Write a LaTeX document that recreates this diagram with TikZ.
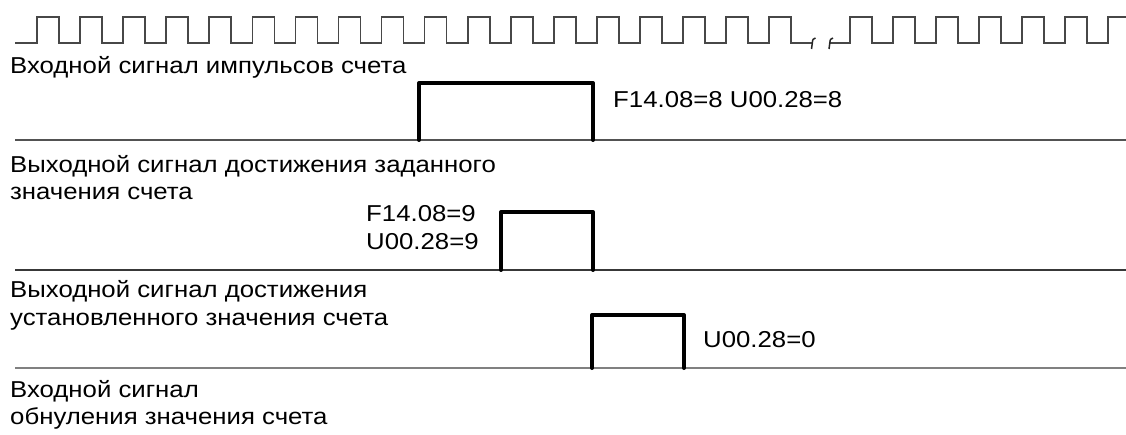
\documentclass[tikz,border=0pt]{standalone}
\usepackage{fontspec}
\setmainfont{Liberation Sans}[FakeStretch=1.12]
\begin{document}
\begin{tikzpicture}[x=1pt,y=-1pt,
  lbl/.style={anchor=base west,inner sep=0pt,font=\fontsize{23}{27}\selectfont,text=black},
  train/.style={draw=black!72,line width=1.7pt,line join=miter},
  axisline/.style={line width=2pt},
  pulse/.style={draw=black,line width=4pt,line join=round,line cap=round}]
\useasboundingbox (0,0) rectangle (1126,435);
% pulse train
\draw[train] (15,43)
  \foreach \k in {0,...,17} { -- ({37+43.07*\k},43) -- ({37+43.07*\k},17) -- ({59+43.07*\k},17) -- ({59+43.07*\k},43) }
  -- (812.5,43);
\draw[train] (830,43)
  \foreach \k in {0,...,5} { -- ({850+43*\k},43) -- ({850+43*\k},17) -- ({872+43*\k},17) -- ({872+43*\k},43) }
  -- (1108,43) -- (1108,17) -- (1126,17);
\draw[black!85,line width=1.5pt] (811.5,49) -- (812.3,43) .. controls (812.8,39) .. (815.5,38);
\draw[black!85,line width=1.5pt] (829,49) -- (829.8,43) .. controls (830.3,39) .. (833,38);
\node[lbl] (t1) at (10,74) {Входной сигнал импульсов счета};
% signal 1
\draw[axisline,draw=black!68] (15,140) -- (1126,140);
\draw[pulse] (419,140) -- (419,83) -- (593,83) -- (593,140);
\node[lbl] (v1) at (613,108) {F14.08=8 U00.28=8};
\node[lbl] (t2a) at (10,173) {Выходной сигнал достижения заданного};
\node[lbl] (t2b) at (10,200) {значения счета};
% signal 2
\draw[axisline,draw=black!78] (15,270) -- (1126,270);
\draw[pulse] (501,270) -- (501,212) -- (593,212) -- (593,270);
\node[lbl] (v2a) at (366,222) {F14.08=9};
\node[lbl] (v2b) at (366,250) {U00.28=9};
\node[lbl] (t3a) at (10,298) {Выходной сигнал достижения};
\node[lbl] (t3b) at (10,325) {установленного значения счета};
% signal 3
\draw[axisline,draw=black!50] (15,368) -- (1126,368);
\draw[pulse] (592,368) -- (592,315) -- (684,315) -- (684,368);
\node[lbl] (v3) at (703,347) {U00.28=0};
\node[lbl] (t4a) at (10,397) {Входной сигнал};
\node[lbl] (t4b) at (10,424) {обнуления значения счета};
\end{tikzpicture}
\end{document}
